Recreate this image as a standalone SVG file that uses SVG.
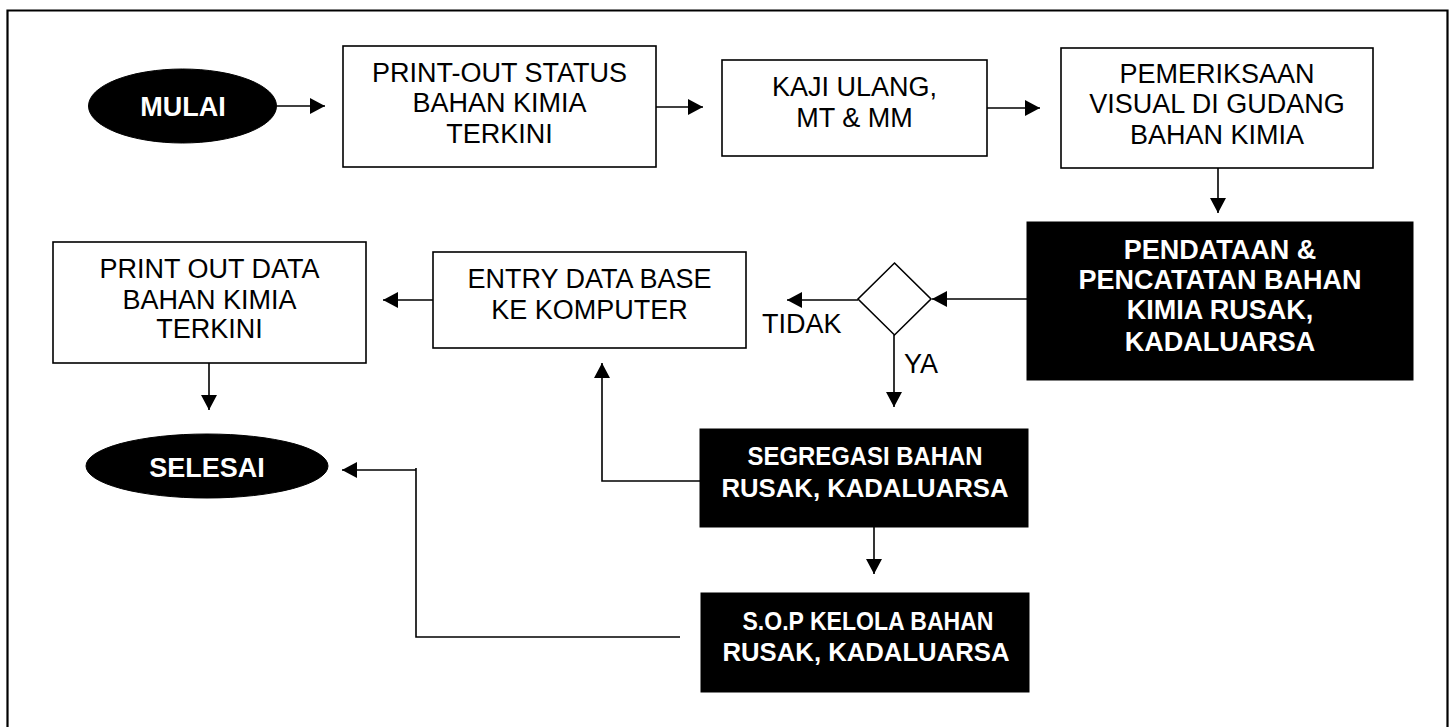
<svg xmlns="http://www.w3.org/2000/svg" width="1455" height="727" viewBox="0 0 1455 727">
<style>
.box{fill:#fff;stroke:#000;stroke-width:1.6}
.dark{fill:#000;stroke:#000;stroke-width:1}
.t{font-family:"Liberation Sans",Arial,sans-serif;font-size:27px;fill:#000;text-anchor:middle}
.tb{font-family:"Liberation Sans",Arial,sans-serif;font-size:27px;font-weight:bold;fill:#fff;text-anchor:middle}
.tn{font-family:"Liberation Sans",Arial,sans-serif;font-size:26px;font-weight:bold;fill:#fff}
.lbl{font-family:"Liberation Sans",Arial,sans-serif;font-size:27px;fill:#000}
.c{fill:none;stroke:#000;stroke-width:1.6}
</style>
<defs>
<marker id="a" viewBox="0 0 15 16" refX="15" refY="8" markerWidth="15" markerHeight="16" markerUnits="userSpaceOnUse" orient="auto">
<path d="M0,0 L15,8 L0,16 Z" fill="#000"/>
</marker>
</defs>
<rect width="1455" height="727" fill="#fff"/>
<path d="M7.5,740 V10.5 H1447.5 V740" fill="none" stroke="#000" stroke-width="2.2"/>

<g id="mulai">
<ellipse cx="182.5" cy="106" rx="94" ry="37" class="dark"/>
<text x="183" y="116" class="tb">MULAI</text>
</g>
<g id="printout-status">
<rect x="343" y="46" width="313" height="121" class="box"/>
<text class="t"><tspan x="499.5" y="82">PRINT-OUT STATUS</tspan><tspan x="499.5" y="112">BAHAN KIMIA</tspan><tspan x="499.5" y="143">TERKINI</tspan></text>
</g>
<g id="kaji-ulang">
<rect x="722" y="60" width="265" height="96" class="box"/>
<text class="t"><tspan x="854.5" y="96">KAJI ULANG,</tspan><tspan x="854.5" y="127">MT &amp; MM</tspan></text>
</g>
<g id="pemeriksaan">
<rect x="1061" y="48" width="312" height="120" class="box"/>
<text class="t"><tspan x="1217" y="83">PEMERIKSAAN</tspan><tspan x="1217" y="113">VISUAL DI GUDANG</tspan><tspan x="1217" y="144">BAHAN KIMIA</tspan></text>
</g>
<g id="pendataan">
<rect x="1027" y="222" width="386" height="158" class="dark"/>
<text class="tb"><tspan x="1220" y="259">PENDATAAN &amp;</tspan><tspan x="1220" y="289">PENCATATAN BAHAN</tspan><tspan x="1220" y="319">KIMIA RUSAK,</tspan><tspan x="1220" y="351">KADALUARSA</tspan></text>
</g>
<g id="keputusan">
<polygon points="894.5,263 931,299 894.5,335 858,299" class="box"/>
</g>
<g id="entry-data">
<rect x="433" y="252" width="313" height="96" class="box"/>
<text class="t"><tspan x="589.5" y="288">ENTRY DATA BASE</tspan><tspan x="589.5" y="319">KE KOMPUTER</tspan></text>
</g>
<g id="printout-data">
<rect x="53" y="242" width="313" height="121" class="box"/>
<text class="t"><tspan x="209.5" y="278">PRINT OUT DATA</tspan><tspan x="209.5" y="309">BAHAN KIMIA</tspan><tspan x="209.5" y="338">TERKINI</tspan></text>
</g>
<g id="selesai">
<ellipse cx="207" cy="466" rx="121" ry="32" class="dark"/>
<text x="207" y="477" class="tb">SELESAI</text>
</g>
<g id="segregasi">
<rect x="700" y="429" width="328" height="98" class="dark"/>
<text x="747.5" y="465" class="tn" textLength="235" lengthAdjust="spacingAndGlyphs">SEGREGASI BAHAN</text>
<text x="721.5" y="497" class="tn" textLength="287" lengthAdjust="spacingAndGlyphs">RUSAK, KADALUARSA</text>
</g>
<g id="sop">
<rect x="701" y="593" width="328" height="99" class="dark"/>
<text x="742.5" y="630" class="tn" textLength="251" lengthAdjust="spacingAndGlyphs">S.O.P KELOLA BAHAN</text>
<text x="722.5" y="661" class="tn" textLength="287" lengthAdjust="spacingAndGlyphs">RUSAK, KADALUARSA</text>
</g>

<g id="connectors">
<line x1="277" y1="106" x2="325" y2="106" class="c" marker-end="url(#a)"/>
<line x1="656" y1="107" x2="703" y2="107" class="c" marker-end="url(#a)"/>
<line x1="987" y1="108" x2="1040" y2="108" class="c" marker-end="url(#a)"/>
<line x1="1218" y1="168" x2="1218" y2="213" class="c" marker-end="url(#a)"/>
<line x1="1027" y1="299" x2="932" y2="299" class="c" marker-end="url(#a)"/>
<line x1="858" y1="300" x2="787" y2="300" class="c" marker-end="url(#a)"/>
<line x1="894" y1="335" x2="894" y2="407" class="c" marker-end="url(#a)"/>
<line x1="433" y1="300" x2="383" y2="300" class="c" marker-end="url(#a)"/>
<line x1="209" y1="363" x2="209" y2="410" class="c" marker-end="url(#a)"/>
<line x1="874" y1="527" x2="874" y2="574" class="c" marker-end="url(#a)"/>
<polyline points="700,481 602,481 602,363" class="c" marker-end="url(#a)"/>
<polyline points="680,637 416,637 416,468" class="c"/>
<line x1="416" y1="470" x2="342" y2="470" class="c" marker-end="url(#a)"/>
<text x="762" y="333" class="lbl">TIDAK</text>
<text x="904" y="373" class="lbl">YA</text>
</g>
</svg>
